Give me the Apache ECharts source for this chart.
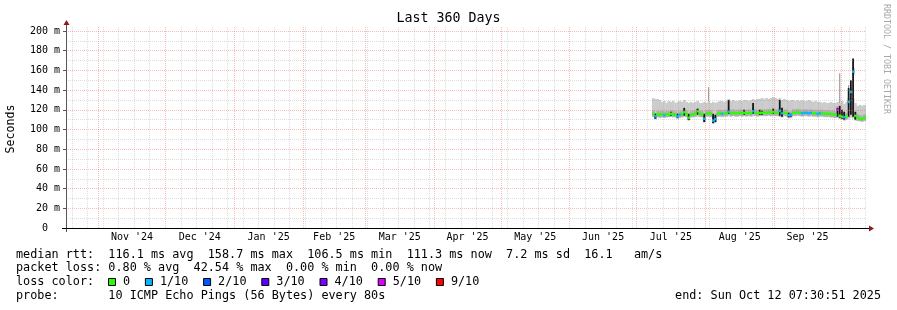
<!DOCTYPE html>
<html><head><meta charset="utf-8">
<script src="https://cdn.jsdelivr.net/npm/echarts@6/dist/echarts.min.js"></script>
<style>html,body{margin:0;padding:0;background:#fff}#c{width:897px;height:310px}</style>
</head><body><div id="c"></div>
<script>
// ---------- data ----------
const titleText = 'Last 360 Days';
const endTime = Date.UTC(2025, 9, 12, 7, 30, 51);
const spanDays = 360;
const firstDay = Date.UTC(2025, 6, 8);   // first day with measurements
const monthLabels = ["Nov '24","Dec '24","Jan '25","Feb '25","Mar '25","Apr '25","May '25","Jun '25","Jul '25","Aug '25","Sep '25"];
const yTickValues = [0,20,40,60,80,100,120,140,160,180,200];

// daily median rtt (ms), Jul 8 .. Oct 12 2025
const medianRtt = [
 116.0,113.5,115.5,115.0,115.5,114.5,115.5,115.0,116.0,115.5,
 115.0,113.5,115.0,115.5,117.5,115.5,112.0,115.0,115.5,116.0,
 118.5,116.0,115.5,111.0,116.0,116.5,116.0,109.0,110.5,116.0,
 116.5,116.0,116.5,116.5,118.0,116.5,117.0,116.5,116.5,117.0,
 116.5,117.0,116.5,117.0,116.5,118.5,117.0,116.5,117.0,117.0,
 117.0,117.0,117.5,117.0,118.0,117.0,117.0,119.0,116.5,117.0,
 116.5,114.5,115.0,117.0,117.0,117.5,117.0,116.5,117.0,117.0,
 116.5,117.0,116.5,116.5,116.0,116.5,116.5,116.0,116.0,116.0,
 115.5,115.5,115.0,120.0,114.0,113.0,112.5,113.5,128.0,138.0,
 158.7,114.0,112.0,111.0,110.5,112.0,111.3];
// loss class per day (index into lossLabels)
const lossClass = [
 0,1,0,0,0,1,0,0,0,0,
 0,1,1,0,0,0,0,0,0,0,
 0,0,0,1,0,0,0,1,1,0,
 0,1,0,0,1,0,0,0,0,0,
 0,0,0,0,0,1,0,0,0,0,
 0,0,0,0,0,0,0,1,1,0,
 0,1,1,0,0,0,0,1,1,1,
 1,1,0,0,1,1,0,0,0,0,
 0,0,0,5,0,0,1,0,1,1,
 1,0,0,0,0,0,0];
// smoke envelope (ms)
const smokeHigh = [
 132,131,131,130,128,129,127,129,128,129,
 127,128,129,128,130,128,127,128,127,128,
 129,127,127,128,127,129,127,128,127,128,
 129,129,128,129,131,129,130,129,129,130,
 129,130,130,129,130,131,130,131,131,132,
 131,132,131,132,133,132,131,132,130,131,
 130,129,130,130,129,130,129,130,129,129,
 130,129,128,129,128,128,127,128,127,127,
 128,127,127,128,127,129,126,128,130,131,
 132,127,124,125,124,125,124];
const smokeLow = [
 112.5,110.5,112.5,112.0,112.5,112.0,112.5,112.5,113.0,112.5,
 112.5,111.0,112.0,112.5,113.0,112.5,109.5,112.5,112.5,113.0,
 113.0,112.5,112.5,107.5,113.0,113.0,112.5,106.0,107.0,113.0,
 113.0,112.5,113.0,113.0,113.5,113.0,113.5,113.0,113.0,113.5,
 113.0,113.5,113.0,113.5,113.0,113.5,113.5,113.0,113.5,113.5,
 113.5,113.5,114.0,113.5,113.5,113.5,113.5,112.5,112.0,113.5,
 113.0,111.5,112.0,113.5,113.5,114.0,113.5,113.0,113.5,113.5,
 113.0,113.5,113.0,113.0,112.5,113.0,113.0,112.5,112.5,112.5,
 112.0,112.0,111.5,112.0,111.0,110.5,109.0,110.0,111.0,112.0,
 111.0,109.0,108.5,108.5,108.0,109.0,108.5];
// black median-range spikes
const spikeDates = ['2025-07-09','2025-07-16','2025-07-19','2025-07-22','2025-07-24','2025-07-28','2025-07-31',
 '2025-08-04','2025-08-05','2025-08-11','2025-08-18','2025-08-22','2025-08-25','2025-08-26','2025-08-31',
 '2025-09-03','2025-09-04','2025-09-07','2025-09-08','2025-09-29','2025-09-30',
 '2025-10-01','2025-10-02','2025-10-04','2025-10-05','2025-10-06','2025-10-07'];
const spikeLow  = [111,114,112,114,109.5,115,107.5, 106.5,107.5,116,115,116,115,115,116, 114,113,112.5,113,113,112, 111,110,113,115,113,110];
const spikeHigh = [116,118,116,122,116,121,116, 116,115,130,120,127,120,119,121, 130,122,117,116,122,124, 120,118,142,150,172,118];
// thin grey smoke peaks
const peakDates = ['2025-08-02','2025-09-30','2025-10-04'];
const peakHigh = [143,157,145];

const lossLabels = ['0','1/10','2/10','3/10','4/10','5/10','9/10'];
const lossColors = ['#26ff00','#00b8ff','#0059ff','#5e00ff','#7e00ff','#dd00ff','#ff0000'];

const statsRtt  = 'median rtt:  116.1 ms avg  158.7 ms max  106.5 ms min  111.3 ms now  7.2 ms sd  16.1   am/s';
const statsLoss = 'packet loss: 0.80 % avg  42.54 % max  0.00 % min  0.00 % now';
const probeText = 'probe:       10 ICMP Echo Pings (56 Bytes) every 80s';
const endText = 'end: Sun Oct 12 07:30:51 2025';
const creditText = 'RRDTOOL / TOBI OETIKER';

// ---------- build ----------
const DAY = 86400000;
const xMax = endTime, xMin = endTime - spanDays * DAY;
const dayStart = i => firstDay + i * DAY;
const dateToT = s => { const p = s.split('-').map(Number); return Date.UTC(p[0], p[1]-1, p[2]); };

const smokeData = smokeHigh.map((h, i) => [dayStart(i), smokeLow[i], h]);
const innerData = medianRtt.map((m, i) => [dayStart(i), Math.max(m - 3, smokeLow[i]), m + 3.5]);
const spikeData = spikeDates.map((d, i) => [dateToT(d), spikeLow[i], spikeHigh[i]]);
const peakData = peakDates.map((d, i) => { const t = dateToT(d); const idx = Math.round((t - firstDay) / DAY); return [t, smokeHigh[idx], peakHigh[i]]; });
const medData = medianRtt.map((m, i) => [dayStart(i), m - 1.2, m + 1.2, lossClass[i]]);

// month boundaries & week (Sunday) lines
const monthStarts = [];
for (let y = 2024, m = 9; ; ) { const t = Date.UTC(y, m, 1); if (t > xMax) break; if (t > xMin) monthStarts.push(t); m++; if (m > 11) { m = 0; y++; } }
const weekLines = [];
for (let t = Date.UTC(2024, 9, 20); t <= xMax; t += 7 * DAY) if (monthStarts.indexOf(t) < 0) weekLines.push(t);
const monthMids = monthLabels.map((_, k) => (Date.UTC(2024, 10 + k, 1) + Date.UTC(2024, 11 + k, 1)) / 2);

const RED = 'rgba(240,90,90,0.42)';
const GRAY = 'rgba(150,150,150,0.32)';
const gridLines = [];
weekLines.forEach(t => gridLines.push({ xAxis: t, lineStyle: { color: GRAY, type: [1, 1], width: 1 } }));
monthStarts.forEach(t => gridLines.push({ xAxis: t, lineStyle: { color: RED, type: [1, 1], width: 1 } }));
for (let v = 10; v <= 200; v += 10) gridLines.push({ yAxis: v, lineStyle: { color: v % 20 === 0 ? RED : GRAY, type: [1, 1], width: 1 } });

function colRender(fillFn, halfWidth) {
  return function (params, api) {
    const t0 = api.value(0), lo = api.value(1), hi = api.value(2);
    let a, b;
    if (halfWidth) { a = t0 + DAY * (0.5 - halfWidth); b = t0 + DAY * (0.5 + halfWidth); }
    else { a = Math.max(t0, xMin); b = Math.min(t0 + DAY, xMax); }
    const p1 = api.coord([a, hi]), p2 = api.coord([b, lo]);
    const w = halfWidth ? Math.max(p2[0] - p1[0], 1) : (p2[0] - p1[0] + (b < xMax ? 0.4 : 0));
    return { type: 'rect', shape: { x: p1[0], y: p1[1], width: w, height: p2[1] - p1[1] }, style: { fill: fillFn(api) } };
  };
}

const FONT = 'DejaVu Sans Mono';
const chart = echarts.init(document.getElementById('c'), null, { renderer: 'canvas' });

const legendRowY = [254.5, 268.3, 282.3, 296];
const graphics = [
  { type: 'line', shape: { x1: 66.5, y1: 232, x2: 66.5, y2: 24 }, style: { stroke: '#555', lineWidth: 1 }, z: 20 },
  { type: 'line', shape: { x1: 62, y1: 228.5, x2: 870, y2: 228.5 }, style: { stroke: '#000', lineWidth: 1 }, z: 20 },
  { type: 'polygon', shape: { points: [[63.5, 25], [69.5, 25], [66.5, 20]] }, style: { fill: '#8b1a1a' }, z: 21 },
  { type: 'polygon', shape: { points: [[869, 225.5], [869, 231.5], [874, 228.5]] }, style: { fill: '#8b1a1a' }, z: 21 },
  { type: 'text', x: 11, y: 129, rotation: Math.PI / 2, style: { text: 'Seconds', fontFamily: FONT, fontSize: 11.6, fill: '#000', align: 'center', verticalAlign: 'middle' } },
  { type: 'text', x: 886, y: 59, rotation: -Math.PI / 2, style: { text: creditText, fontFamily: FONT, fontSize: 8.3, fill: '#a8a8a8', align: 'center', verticalAlign: 'middle' } },
  { type: 'text', x: 16, y: legendRowY[0], style: { text: statsRtt, fontFamily: FONT, fontSize: 11.8, fill: '#000', align: 'left', verticalAlign: 'middle' } },
  { type: 'text', x: 16, y: legendRowY[1], style: { text: statsLoss, fontFamily: FONT, fontSize: 11.8, fill: '#000', align: 'left', verticalAlign: 'middle' } },
  { type: 'text', x: 16, y: legendRowY[2], style: { text: 'loss color:', fontFamily: FONT, fontSize: 11.8, fill: '#000', align: 'left', verticalAlign: 'middle' } },
  { type: 'text', x: 16, y: legendRowY[3], style: { text: probeText, fontFamily: FONT, fontSize: 11.8, fill: '#000', align: 'left', verticalAlign: 'middle' } },
  { type: 'text', x: 881, y: legendRowY[3], style: { text: endText, fontFamily: FONT, fontSize: 11.8, fill: '#000', align: 'right', verticalAlign: 'middle' } }
];
let bx = 108.5;
lossLabels.forEach((lab, k) => {
  graphics.push({ type: 'rect', shape: { x: bx, y: 278.5, width: 7, height: 7 }, style: { fill: lossColors[k], stroke: '#000', lineWidth: 1 } });
  const tx = bx + 14.5;
  graphics.push({ type: 'text', x: tx, y: legendRowY[2], style: { text: lab, fontFamily: FONT, fontSize: 11.8, fill: '#000', align: 'left', verticalAlign: 'middle' } });
  bx = tx + lab.length * 7.1 + 15.3;
});

chart.setOption({
  animation: false,
  backgroundColor: '#fff',
  title: { text: titleText, left: 'center', top: 12.5, padding: 0, textStyle: { fontFamily: FONT, fontSize: 13.3, fontWeight: 'normal', color: '#000' } },
  grid: { left: 66, top: 26, width: 800, height: 202, containLabel: false },
  xAxis: {
    type: 'value', min: xMin, max: xMax,
    axisLine: { show: false }, axisTick: { show: false }, splitLine: { show: false },
    axisLabel: {
      customValues: monthMids, margin: 4, fontFamily: FONT, fontSize: 10, color: '#000',
      formatter: v => { let best = 0; monthMids.forEach((m, k) => { if (Math.abs(m - v) < Math.abs(monthMids[best] - v)) best = k; }); return monthLabels[best]; }
    }
  },
  yAxis: {
    type: 'value', min: 0, max: 205.1,
    axisLine: { show: false }, splitLine: { show: false },
    axisTick: { show: true, customValues: yTickValues, length: 3, lineStyle: { color: '#555' } },
    axisLabel: { customValues: yTickValues, margin: 6, fontFamily: FONT, fontSize: 10, color: '#000', formatter: v => v === 0 ? '0  ' : v + ' m' }
  },
  graphic: graphics,
  series: [
    { type: 'custom', name: 'smoke', data: smokeData, encode: { x: 0, y: [1, 2] }, renderItem: colRender(() => '#cbcbcb', 0), z: 2, silent: true },
    { type: 'custom', name: 'smokeInner', data: innerData, encode: { x: 0, y: [1, 2] }, renderItem: colRender(() => '#b0b0b0', 0), z: 2, silent: true },
    { type: 'custom', name: 'peaks', data: peakData, encode: { x: 0, y: [1, 2] }, renderItem: colRender(() => '#8a8a8a', 0.22), z: 2, silent: true },
    { type: 'custom', name: 'spikes', data: spikeData, encode: { x: 0, y: [1, 2] }, renderItem: colRender(() => '#151515', 0.4), z: 2, silent: true },
    { type: 'custom', name: 'median', data: medData, encode: { x: 0, y: [1, 2] }, renderItem: colRender(api => lossColors[api.value(3)], 0), z: 2, silent: true,
      markLine: { silent: true, symbol: ['none', 'none'], label: { show: false }, animation: false, data: gridLines } }
  ]
});
</script>
</body></html>
